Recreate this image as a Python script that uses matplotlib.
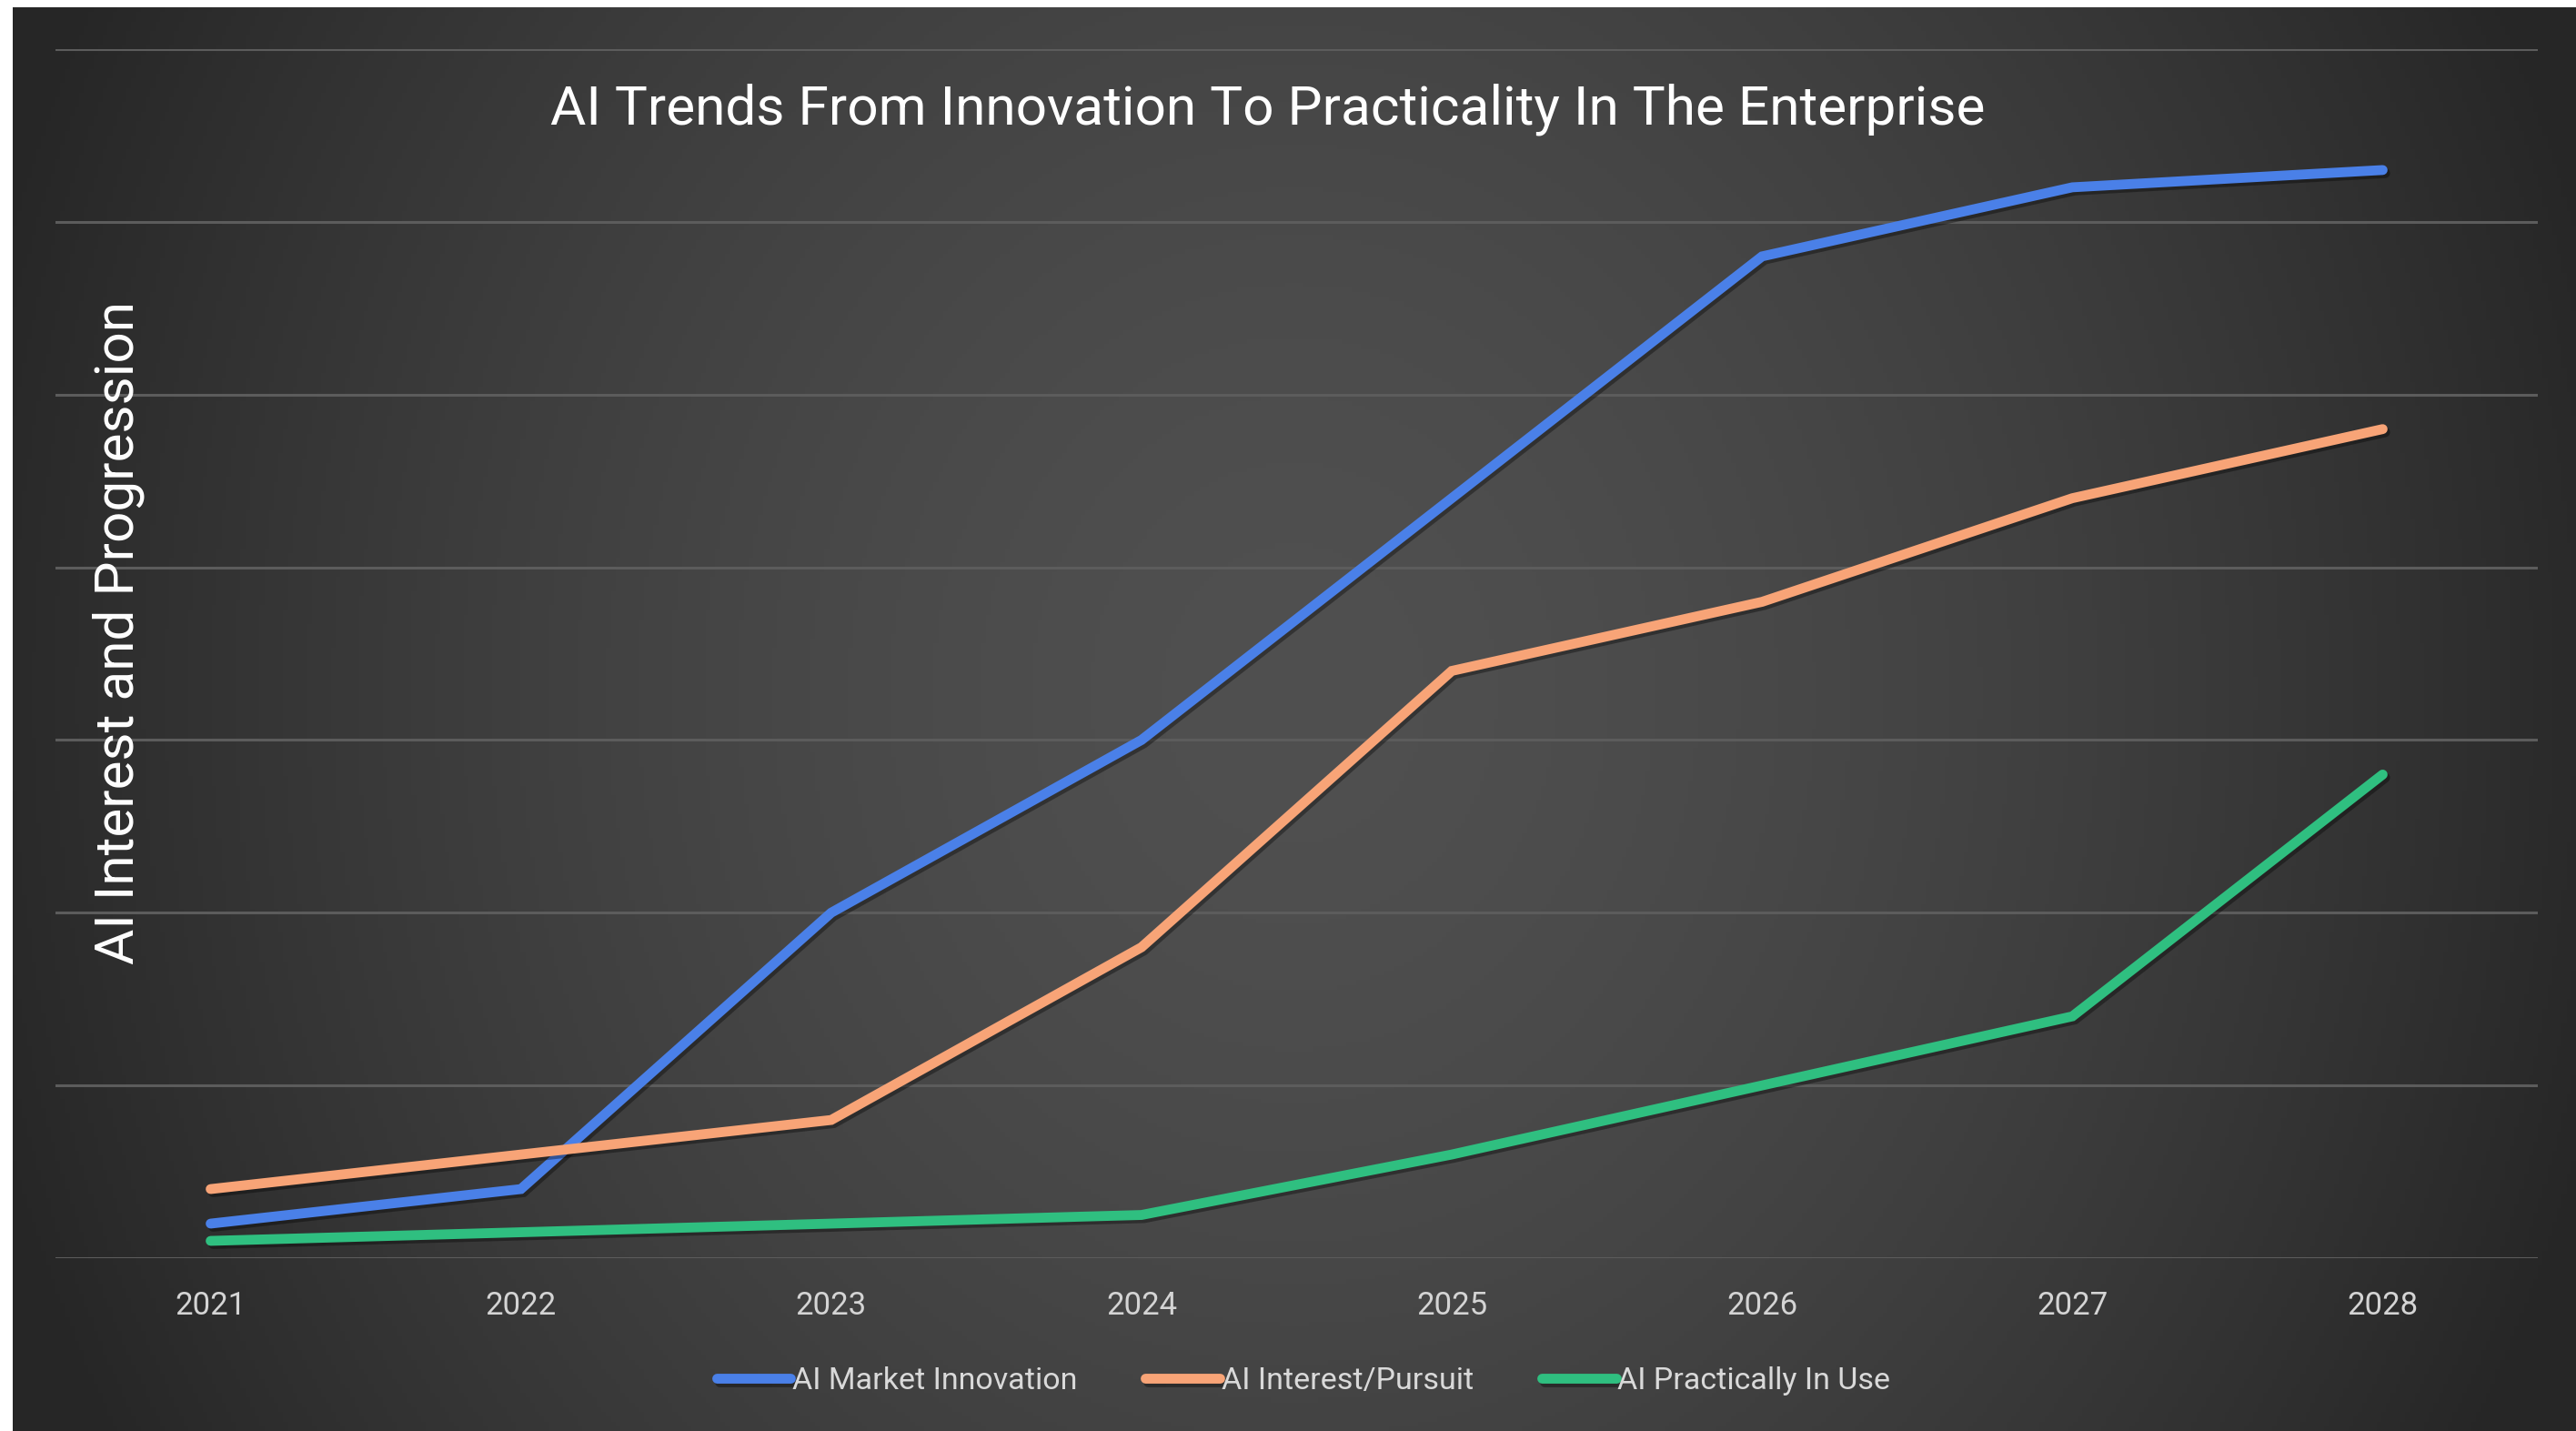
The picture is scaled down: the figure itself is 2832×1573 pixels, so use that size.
import numpy as np
import matplotlib
matplotlib.use("Agg")
import matplotlib.pyplot as plt
import matplotlib.patheffects as pe

years = ["2021", "2022", "2023", "2024", "2025", "2026", "2027", "2028"]
market_innovation = [0.2, 0.4, 2.0, 3.0, 4.4, 5.8, 6.2, 6.3]
interest_pursuit = [0.4, 0.6, 0.8, 1.8, 3.4, 3.8, 4.4, 4.8]
practically_in_use = [0.1, 0.15, 0.2, 0.25, 0.6, 1.0, 1.4, 2.8]
series_names = ["AI Market Innovation", "AI Interest/Pursuit", "AI Practically In Use"]
series_colors = ["#4A80E8", "#F8A477", "#2FBF80"]

title = "AI Trends From Innovation To Practicality In The Enterprise"
ylabel = "AI Interest and Progression"

W, H, DPI = 2832, 1573, 100
fig = plt.figure(figsize=(W / DPI, H / DPI), dpi=DPI)
fig.patch.set_facecolor("white")

# background gradient panel
bg = fig.add_axes([14 / W, 0, 1 - 14 / W, 1 - 8 / H])
bg.set_axis_off()
ny, nx = 300, 540
yy, xx = np.mgrid[0:ny, 0:nx]
xx = xx / nx * (W - 14) + 14
yy = yy / ny * (H - 8) + 8
cx, cy = 1420, 760
r = np.sqrt(((xx - cx) / 1500) ** 2 + ((yy - cy) / 1700) ** 2)
r = np.clip(r, 0, 1)
c_center, c_edge = 0x50, 0x26
val = (c_center + (c_edge - c_center) * r ** 1.6) / 255.0
img = np.dstack([val, val, val])
bg.imshow(img, aspect="auto", extent=[0, 1, 0, 1], origin="upper")
bg.set_xlim(0, 1)
bg.set_ylim(0, 1)

ax = fig.add_axes([61 / W, (H - 1383) / H, (2790 - 61) / W, (1383 - 54) / H])
ax.set_facecolor("none")
x = np.arange(len(years))
shadow = [pe.SimpleLineShadow(offset=(2, -2.5), shadow_color="black", alpha=0.35), pe.Normal()]
for vals, name, col in zip([market_innovation, interest_pursuit, practically_in_use], series_names, series_colors):
    ax.plot(x, vals, color=col, lw=7.8, solid_capstyle="round", solid_joinstyle="miter",
            label=name, path_effects=shadow, zorder=3)

ax.set_xlim(-0.5, len(years) - 0.5)
ax.set_ylim(0, 7)
ax.set_yticks(np.arange(0, 8, 1))
ax.set_yticklabels([])
ax.tick_params(axis="y", length=0)
ax.grid(axis="y", color="#5c5c5c", lw=2.2, zorder=1)
ax.set_xticks(x)
ax.set_xticklabels(years, fontsize=25, color="#d4d4d4", family="Roboto")
ax.tick_params(axis="x", length=0, pad=26)
for s in ax.spines.values():
    s.set_visible(False)

fig.text(1394 / W, 1 - 120 / H, title, ha="center", va="center", fontsize=43.5,
         color="white", family="Roboto")
fig.text(130 / W, 1 - 696 / H, ylabel, ha="center", va="center", rotation=90,
         fontsize=43.5, color="white", family="Roboto")

leg = fig.legend(loc="center", bbox_to_anchor=(1433 / W, 1 - 1518 / H), ncol=3, frameon=False,
                 handlelength=2.4, handletextpad=0.05, columnspacing=2.2,
                 prop={"family": "Roboto", "size": 24.5})
for t in leg.get_texts():
    t.set_color("#d9d9d9")
for h in leg.legend_handles:
    h.set_linewidth(7.8)
    h.set_solid_capstyle("round")

fig.savefig("out.png", dpi=DPI, facecolor=fig.get_facecolor())
